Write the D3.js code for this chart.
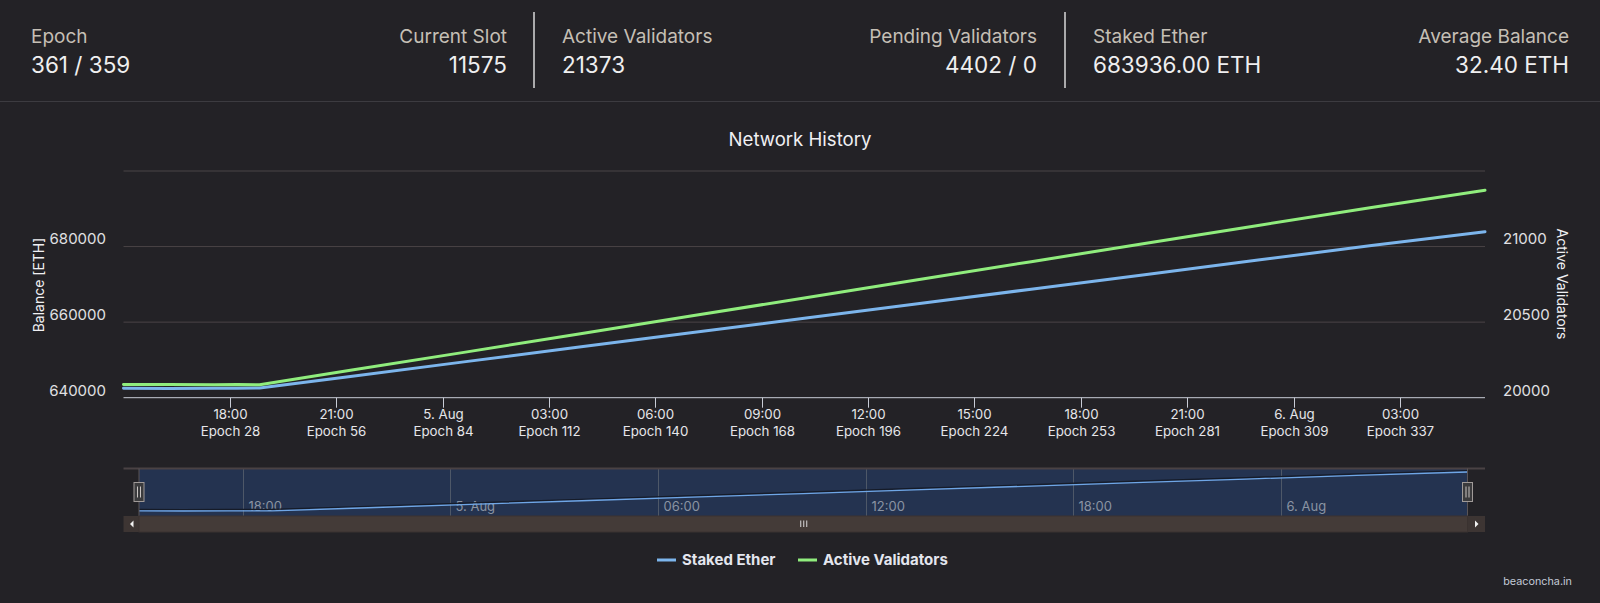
<!DOCTYPE html>
<html><head><meta charset="utf-8">
<script src="https://cdn.jsdelivr.net/npm/d3@7/dist/d3.min.js"></script>
<style>
html,body{margin:0;padding:0;background:#232226;overflow:hidden;}
svg{display:block;font-family:Inter,"Noto Sans",sans-serif;}
</style></head><body>
<svg id="c" width="1600" height="603"></svg>
<script>
// ---------- data ----------
const headerLabels = ["Epoch", "Current Slot", "Active Validators", "Pending Validators", "Staked Ether", "Average Balance"];
const headerValues = ["361 / 359", "11575", "21373", "4402 / 0", "683936.00 ETH", "32.40 ETH"];

const epochs        = [0, 12, 24, 30, 36, 60, 90, 120, 150, 180, 210, 240, 270, 300, 330, 360];
const stakedEther   = [642500, 642450, 642480, 642500, 642550, 645630, 649480, 653330, 657180, 661030, 664870, 668720, 672570, 676420, 680270, 683936];
const activeVals    = [20088, 20087, 20086, 20088, 20085, 20181, 20300, 20420, 20540, 20660, 20780, 20900, 21020, 21140, 21258, 21373];

const leftTicks  = [640000, 660000, 680000, 700000];
const rightTicks = [20000, 20500, 21000, 21500];
const xTickHours   = [3, 6, 9, 12, 15, 18, 21, 24, 27, 30, 33, 36];
const xTickLabels  = ["18:00", "21:00", "5. Aug", "03:00", "06:00", "09:00", "12:00", "15:00", "18:00", "21:00", "6. Aug", "03:00"];
const xTickEpochs  = [28, 56, 84, 112, 140, 168, 196, 224, 253, 281, 309, 337];
const navTickHours  = [3, 9, 15, 21, 27, 33];
const navTickLabels = ["18:00", "5. Aug", "06:00", "12:00", "18:00", "6. Aug"];
const seriesNames = ["Staked Ether", "Active Validators"];
const seriesColors = ["#7cb5ec", "#90ed7d"];

// ---------- setup ----------
const svg = d3.select("#c");
const genesis = Date.UTC(2020, 7, 4, 15, 0, 0);
const epochTime = e => new Date(genesis + e * 384000);
const hourTime = h => new Date(genesis + h * 3600000);

// ---------- header ----------
const colX = [[31, 507], [562, 1037], [1093, 1569]];
const hdr = svg.append("g");
headerLabels.forEach((lab, i) => {
  const col = Math.floor(i / 2), right = i % 2 === 1;
  const x = right ? colX[col][1] : colX[col][0];
  hdr.append("text").attr("x", x).attr("y", 43).attr("text-anchor", right ? "end" : "start")
    .attr("font-size", 19).attr("fill", "#c5bfb5").text(lab);
  hdr.append("text").attr("x", x).attr("y", 72.5).attr("text-anchor", right ? "end" : "start")
    .attr("font-size", 22.5).attr("fill", "#efeff0").text(headerValues[i]);
});
[534, 1065].forEach(x => hdr.append("line").attr("x1", x).attr("x2", x).attr("y1", 12).attr("y2", 88)
  .attr("stroke", "#d8d8d8").attr("stroke-width", 1.5));
hdr.append("line").attr("x1", 0).attr("x2", 1600).attr("y1", 101.5).attr("y2", 101.5)
  .attr("stroke", "#3c3b40").attr("stroke-width", 1);

// ---------- main chart ----------
const L = 123.5, R = 1485, T = 171, B = 397.7;
const x = d3.scaleTime().domain([epochTime(0), epochTime(360)]).range([L, R]);
const yL = d3.scaleLinear().domain([640000, 700000]).range([B, T]);
const yR = d3.scaleLinear().domain([20000, 21500]).range([B, T]);

svg.append("text").attr("x", 800).attr("y", 146).attr("text-anchor", "middle")
  .attr("font-size", 18.6).attr("fill", "#f0f0f3").text("Network History");

const grid = svg.append("g");
leftTicks.slice(1).forEach(v => grid.append("line").attr("x1", L).attr("x2", R)
  .attr("y1", yL(v)).attr("y2", yL(v)).attr("stroke", "#4a4446").attr("stroke-width", 1));

// left axis labels
const gl = svg.append("g").attr("font-size", 15).attr("fill", "#e0e0e3");
leftTicks.slice(0, 3).forEach(v => gl.append("text").attr("x", 106).attr("y", yL(v) - 7.5)
  .attr("dy", "0.36em").attr("text-anchor", "end").text(d3.format("d")(v)));
const gr = svg.append("g").attr("font-size", 15).attr("fill", "#e0e0e3");
rightTicks.slice(0, 3).forEach(v => gr.append("text").attr("x", 1503).attr("y", yR(v) - 7.5)
  .attr("dy", "0.36em").attr("text-anchor", "start").text(d3.format("d")(v)));

svg.append("text").attr("transform", "translate(39,285) rotate(-90)").attr("text-anchor", "middle")
  .attr("dy", "0.36em").attr("font-size", 14).attr("fill", "#f0f0f3").text("Balance [ETH]");
svg.append("text").attr("transform", "translate(1562,284) rotate(90)").attr("text-anchor", "middle")
  .attr("dy", "0.36em").attr("font-size", 14).attr("fill", "#f0f0f3").text("Active Validators");

// x axis
const xa = svg.append("g");
xa.append("line").attr("x1", L).attr("x2", R).attr("y1", B).attr("y2", B).attr("stroke", "#c8ccd6").attr("stroke-width", 1);
xTickHours.forEach((h, i) => {
  const px = Math.round(x(hourTime(h))) + 0.5;
  xa.append("line").attr("x1", px).attr("x2", px).attr("y1", B).attr("y2", B + 10).attr("stroke", "#c8ccd6");
  xa.append("text").attr("x", px).attr("y", 419).attr("text-anchor", "middle").attr("font-size", 13.3)
    .attr("fill", "#e6e6ea").text(xTickLabels[i]);
  xa.append("text").attr("x", px).attr("y", 436).attr("text-anchor", "middle").attr("font-size", 13.3)
    .attr("fill", "#e6e6ea").text("Epoch " + xTickEpochs[i]);
});

// series
const lineL = d3.line().x((d, i) => x(epochTime(epochs[i]))).y(d => yL(d));
const lineR = d3.line().x((d, i) => x(epochTime(epochs[i]))).y(d => yR(d));
svg.append("path").attr("d", lineL(stakedEther)).attr("fill", "none").attr("stroke", seriesColors[0])
  .attr("stroke-width", 3).attr("stroke-linejoin", "round").attr("stroke-linecap", "round");
svg.append("path").attr("d", lineR(activeVals)).attr("fill", "none").attr("stroke", seriesColors[1])
  .attr("stroke-width", 3).attr("stroke-linejoin", "round").attr("stroke-linecap", "round");

// ---------- navigator ----------
const NT = 468.5, NB = 516, NL = 139, NR = 1467.5;
const xn = d3.scaleTime().domain([epochTime(0), epochTime(360)]).range([NL, NR]);
const yn = d3.scaleLinear().domain([d3.min(stakedEther), d3.max(stakedEther)]).range([511, 472]);
const nav = svg.append("g");
nav.append("rect").attr("x", NL).attr("y", NT).attr("width", NR - NL).attr("height", NB - NT).attr("fill", "#243350");
navTickHours.forEach((h, i) => {
  const px = Math.round(xn(hourTime(h))) + 0.5;
  nav.append("line").attr("x1", px).attr("x2", px).attr("y1", NT).attr("y2", NB).attr("stroke", "#4e5868").attr("stroke-width", 1);
  nav.append("text").attr("x", px + 5).attr("y", 510.5).attr("font-size", 13).attr("fill", "#8a93a3").text(navTickLabels[i]);
});
const lineN = d3.line().x((d, i) => xn(epochTime(epochs[i]))).y(d => yn(d));
nav.append("path").attr("d", lineN(stakedEther)).attr("transform", "translate(0,-1.5)").attr("fill", "none")
  .attr("stroke", "#151b28").attr("stroke-width", 1.2);
nav.append("path").attr("d", lineN(stakedEther)).attr("fill", "none").attr("stroke", "#6fa6e6").attr("stroke-width", 1.3);
// outline
nav.append("path").attr("d", `M${L},${NT}H${R}`).attr("stroke", "#4a4244").attr("stroke-width", 2).attr("fill", "none");
[NL, NR].forEach(px => nav.append("line").attr("x1", px).attr("x2", px).attr("y1", NT).attr("y2", NB)
  .attr("stroke", "#5a5557").attr("stroke-width", 1));
// scrollbar
const SY = 516, SH = 16;
nav.append("rect").attr("x", L).attr("y", SY).attr("width", R - L).attr("height", SH).attr("fill", "#3d3533");
nav.append("rect").attr("x", NL).attr("y", SY).attr("width", NR - NL).attr("height", SH).attr("fill", "#443b38")
  .attr("stroke", "#3a3230").attr("stroke-width", 1);
nav.append("path").attr("d", `M${L + 10},${SY + 4.5}L${L + 10},${SY + 11.5}L${L + 6.5},${SY + 8}Z`).attr("fill", "#f2f2f2");
nav.append("path").attr("d", `M${NR + 7.5},${SY + 4.5}L${NR + 7.5},${SY + 11.5}L${NR + 11},${SY + 8}Z`).attr("fill", "#f2f2f2");
const cx = (NL + NR) / 2;
[-3, 0, 3].forEach(d => nav.append("line").attr("x1", cx + d + 0.5).attr("x2", cx + d + 0.5)
  .attr("y1", SY + 4.5).attr("y2", SY + 11).attr("stroke", "#d8d8d8").attr("stroke-width", 1));
// handles
[NL, NR].forEach(px => {
  const g = nav.append("g").attr("transform", `translate(${px},492)`);
  g.append("rect").attr("x", -5).attr("y", -9.5).attr("width", 10).attr("height", 19).attr("fill", "#3b3b3d")
    .attr("stroke", "#a09a98").attr("stroke-width", 1);
  [-1.5, 1.5].forEach(d => g.append("line").attr("x1", d).attr("x2", d).attr("y1", -5.5).attr("y2", 5.5)
    .attr("stroke", "#c9c4c2").attr("stroke-width", 1));
});

// ---------- legend ----------
const leg = svg.append("g").attr("font-size", 15).attr("font-weight", "bold").attr("fill", "#e3e6ee");
const legX = [657, 798];
seriesNames.forEach((n, i) => {
  leg.append("line").attr("x1", legX[i]).attr("x2", legX[i] + 19).attr("y1", 560).attr("y2", 560)
    .attr("stroke", seriesColors[i]).attr("stroke-width", 3);
  leg.append("text").attr("x", legX[i] + 25).attr("y", 560).attr("dy", "0.36em").text(n);
});

svg.append("text").attr("x", 1572).attr("y", 585).attr("text-anchor", "end").attr("font-size", 10.8)
  .attr("fill", "#c3cbd8").text("beaconcha.in");
</script>
</body></html>
